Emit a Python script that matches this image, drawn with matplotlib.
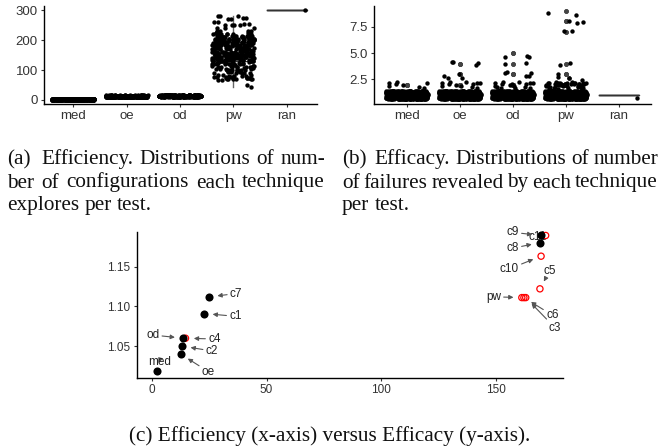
import numpy as np
import matplotlib
matplotlib.use('Agg')
import matplotlib.pyplot as plt

plt.rcParams['font.family'] = ['Liberation Sans', 'DejaVu Sans']

techniques = ['med', 'oe', 'od', 'pw', 'ran']

# (a) efficiency: configurations explored per test  (value, count)
eff_med_values = [1, 2, 3]
eff_med_counts = [110, 150, 60]
eff_oe_values = [10, 11, 12, 13, 14, 15]
eff_oe_counts = [40, 60, 80, 80, 60, 40]
eff_od_values = [11, 12, 13, 14, 15, 16]
eff_od_counts = [40, 60, 80, 80, 50, 30]
eff_pw_values = [45, 52, 68, 70, 72, 75, 78, 80, 85, 90, 95, 100, 105, 110, 115,
                 120, 125, 130, 135, 140, 145, 150, 155, 160, 165, 170, 175, 180,
                 185, 190, 195, 200, 205, 210, 215, 220, 225, 230, 240, 250, 255,
                 260, 270, 275, 280]
eff_pw_counts = [1, 1, 2, 4, 4, 5, 3, 4, 3, 5, 4, 9, 6, 7, 7,
                 9, 9, 12, 12, 15, 16, 20, 16, 13, 10, 8, 10, 13,
                 15, 18, 18, 18, 15, 13, 9, 7, 5, 4, 3, 4, 2,
                 2, 2, 2, 3]
eff_ran_values = [300]
eff_ran_counts = [1]

# (b) efficacy: failures revealed per test  (value, count)
fail_med_values = [1, 2]
fail_med_counts = [400, 8]
fail_oe_values = [1, 2, 3, 4]
fail_oe_counts = [400, 12, 4, 4]
fail_od_values = [1, 2, 3, 4, 5]
fail_od_counts = [400, 16, 5, 2, 3]
fail_pw_values = [1, 2, 3, 4, 7, 8, 9]
fail_pw_counts = [400, 45, 4, 2, 2, 3, 2]
fail_ran_values = [1]
fail_ran_counts = [1]

# (c) mean efficiency vs mean efficacy per technique / configuration
point_labels = ['c4', 'med', 'oe', 'c2', 'od', 'c1', 'c7',
                'pw', 'c6', 'c3', 'c5', 'c10', 'c11', 'c8', 'c9']
point_eff = [14.6, 2.2, 12.5, 13.2, 13.6, 22.8, 24.9,
             161.4, 162.3, 163.1, 169.3, 169.8, 171.8, 169.3, 169.6]
point_fail = [1.060, 1.019, 1.040, 1.050, 1.060, 1.091, 1.112,
              1.111, 1.111, 1.111, 1.122, 1.163, 1.189, 1.180, 1.189]
point_set = [2, 1, 1, 1, 1, 1, 1,
             2, 2, 2, 2, 2, 2, 1, 1]

# where the repelled labels sit
label_x = [27.2, 3.2, 24.6, 26.1, 0.3, 36.4, 36.7,
           149.0, 174.7, 175.9, 173.4, 155.9, 168.3, 157.4, 157.4]
label_y = [1.059, 1.030, 1.018, 1.044, 1.064, 1.0875, 1.116,
           1.112, 1.089, 1.073, 1.144, 1.147, 1.187, 1.173, 1.193]

eff_data = [(eff_med_values, eff_med_counts), (eff_oe_values, eff_oe_counts),
            (eff_od_values, eff_od_counts), (eff_pw_values, eff_pw_counts),
            (eff_ran_values, eff_ran_counts)]
fail_data = [(fail_med_values, fail_med_counts), (fail_oe_values, fail_oe_counts),
             (fail_od_values, fail_od_counts), (fail_pw_values, fail_pw_counts),
             (fail_ran_values, fail_ran_counts)]

W, H = 672, 448
fig = plt.figure(figsize=(W / 100, H / 100), dpi=100)


def px_axes(x0, y0, x1, y1):
    return fig.add_axes([x0 / W, 1 - y1 / H, (x1 - x0) / W, (y1 - y0) / H])


def style(ax, fs):
    for s in ['top', 'right']:
        ax.spines[s].set_visible(False)
    for s in ['left', 'bottom']:
        ax.spines[s].set_linewidth(1.0)
        ax.spines[s].set_color('black')
    ax.tick_params(length=2.5, width=0.8, color='#333333', labelsize=fs,
                   labelcolor='#333333', pad=2)


def jitter(n, w=0.4):
    # deterministic spread (quadratic Weyl sequence) in place of random jitter
    i = np.arange(n, dtype=float)
    fx = (0.925 + i * i * 0.7548776662 + i * 0.1415926) % 1
    fy = (0.1125 + i * 0.5698402910 + i * i * 0.3183098862) % 1
    return (fx - 0.5) * 2 * w, (fy - 0.5) * 2 * w


def strip(ax, data):
    samples = [np.repeat(v, c).astype(float) for v, c in data]
    pos = np.arange(1, len(samples) + 1)
    ax.boxplot(samples, positions=pos, widths=0.75, whis=1.5,
               manage_ticks=False, showcaps=False,
               boxprops=dict(color='#333333', lw=1.0),
               whiskerprops=dict(color='#666666', lw=1.0),
               medianprops=dict(color='#333333', lw=1.0),
               flierprops=dict(marker='o', markersize=3.4, markerfacecolor='#444444',
                               markeredgecolor='none'),
               zorder=1)
    for p, y in zip(pos, samples):
        dx, dy = jitter(len(y))
        ax.scatter(p + dx, y + dy, s=10, color='black', linewidths=0, zorder=2)
    ax.set_xticks(pos)
    ax.set_xticklabels(techniques)


ax1 = px_axes(44, 6, 317, 104)
strip(ax1, eff_data)
ax1.set_xlim(0.45, 5.57)
ax1.set_ylim(-13.4, 314)
ax1.set_yticks([0, 100, 200, 300])
style(ax1, 9.5)

ax2 = px_axes(373.7, 6, 651, 104)
strip(ax2, fail_data)
ax2.set_xlim(0.38, 5.61)
ax2.set_ylim(0.15, 9.47)
ax2.set_yticks([2.5, 5.0, 7.5])
ax2.set_yticklabels(['2.5', '5.0', '7.5'])
style(ax2, 9.5)

ax3 = px_axes(136.7, 232.3, 563.3, 377.7)
pe = np.array(point_eff)
pf = np.array(point_fail)
ps = np.array(point_set)
for i, lbl in enumerate(point_labels):
    ax3.annotate(lbl, xy=(pe[i], pf[i]), xytext=(label_x[i], label_y[i]),
                 ha='center', va='center', fontsize=8.5, color='#222222', zorder=2,
                 arrowprops=dict(arrowstyle='-|>,head_length=0.3,head_width=0.15',
                                 color='#555555', lw=0.8, shrinkA=0, shrinkB=6))
ax3.scatter(pe[ps == 2], pf[ps == 2], s=20, facecolors='none', edgecolors='red',
            linewidths=0.9, zorder=3, clip_on=False)
ax3.scatter(pe[ps == 1], pf[ps == 1], s=34, color='black', linewidths=0,
            zorder=4, clip_on=False)
ax3.set_xlim(-6.7, 179.5)
ax3.set_ylim(1.0104, 1.193)
ax3.set_xticks([0, 50, 100, 150])
ax3.set_yticks([1.05, 1.10, 1.15])
ax3.set_yticklabels(['1.05', '1.10', '1.15'])
style(ax3, 8.5)

# captions (justified like the paper)
cap_font = dict(family=['Liberation Serif', 'DejaVu Serif'], size=15.3, color='#111111')
renderer = fig.canvas.get_renderer()


def caption_line(words, x0, x1, y, justify=True):
    texts = [fig.text(0, 1 - y / H, w, va='baseline', ha='left', **cap_font) for w in words]
    widths = [t.get_window_extent(renderer).width for t in texts]
    probe2 = fig.text(0, 0, 'a a', **cap_font)
    probe1 = fig.text(0, 0, 'aa', **cap_font)
    sw = probe2.get_window_extent(renderer).width - probe1.get_window_extent(renderer).width
    probe2.remove()
    probe1.remove()
    weights = [1.0] * (len(words) - 1)
    if words[0].startswith('('):
        weights[0] = 1.7
    if justify:
        unit = (x1 - x0 - sum(widths)) / sum(weights)
    else:
        unit = sw
    x = x0
    for t, w, k in zip(texts, widths, weights + [0]):
        t.set_x(x / W)
        x += w + unit * k


caption_line(['(a)', 'Efficiency.', 'Distributions', 'of', 'num-'], 7, 325, 164)
caption_line(['ber', 'of', 'configurations', 'each', 'technique'], 7, 325, 187.5)
caption_line(['explores', 'per', 'test.'], 7, 325, 210, justify=False)
caption_line(['(b)', 'Efficacy.', 'Distributions', 'of', 'number'], 342, 658, 164)
caption_line(['of', 'failures', 'revealed', 'by', 'each', 'technique'], 342, 658, 187.5)
caption_line(['per', 'test.'], 342, 658, 210, justify=False)
fig.text(129 / W, 1 - 441 / H, '(c) Efficiency (x-axis) versus Efficacy (y-axis).',
         va='baseline', ha='left', **cap_font)

fig.savefig('out.png', dpi=100)
